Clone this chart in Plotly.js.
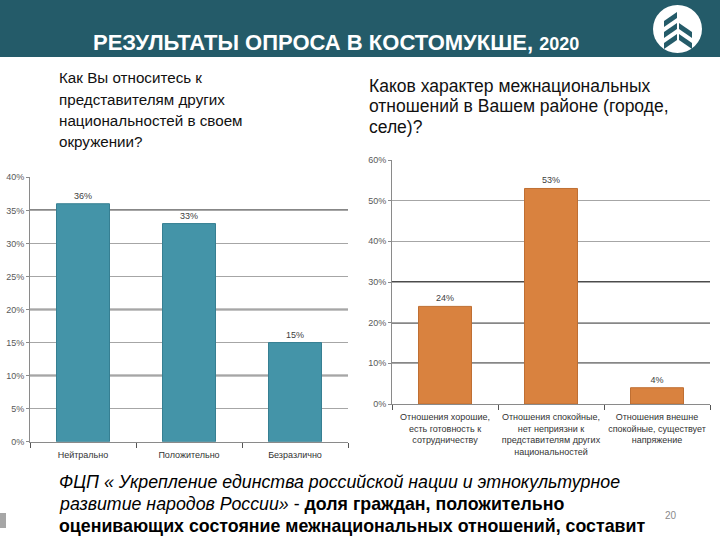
<!DOCTYPE html>
<html><head><meta charset="utf-8">
<script src="https://cdn.plot.ly/plotly-3.0.1.min.js"></script>
<style>html,body{margin:0;padding:0;background:#fff}#chart{width:720px;height:540px}</style>
</head><body><div id="chart"></div>
<script>
// ---- data ----
const leftCategories = ['Нейтрально', 'Положительно', 'Безразлично'];
const leftValues = [36, 33, 15];
const rightCategories = [
  'Отношения хорошие,<br>есть готовность к<br>сотрудничеству',
  'Отношения спокойные,<br>нет неприязни к<br>представителям других<br>национальностей',
  'Отношения внешне<br>спокойные, существует<br>напряжение'
];
const rightValues = [24, 53, 4];
const leftTicks = [0, 5, 10, 15, 20, 25, 30, 35, 40];
const rightTicks = [0, 10, 20, 30, 40, 50, 60];
const leftDarkGrid = [10, 20, 35];
const rightDarkGrid = [10, 20, 30];
const titleText = 'РЕЗУЛЬТАТЫ ОПРОСА В КОСТОМУКШЕ,';
const titleYear = '2020';
const leftQuestion = ['Как Вы относитесь к', 'представителям других', 'национальностей в своем', 'окружении?'];
const rightQuestion = ['Каков характер межнациональных', 'отношений в Вашем районе (городе,', 'селе)?'];
const noteLines = [
  '<i>ФЦП « Укрепление единства российской нации и этнокультурное</i>',
  '<i>развитие народов России»</i> - <b>доля граждан, положительно</b>',
  '<b>оценивающих состояние межнациональных отношений, составит</b>'
];
const pageNumber = '20';

// ---- layout helpers ----
const W = 720, H = 540;
const px = x => x / W;
const py = y => 1 - y / H;
const sans = 'Liberation Sans, Arial, sans-serif';
const pct = v => v + '%';

const traces = [
  {type: 'bar', x: leftCategories, y: leftValues, xaxis: 'x', yaxis: 'y', width: 0.5,
   marker: {color: '#4494a8', line: {color: '#367f92', width: 1}},
   text: leftValues.map(pct), textposition: 'outside', cliponaxis: false,
   textfont: {family: sans, size: 9, color: '#404040'}, hoverinfo: 'skip'},
  {type: 'bar', x: rightCategories, y: rightValues, xaxis: 'x2', yaxis: 'y2', width: 0.5,
   marker: {color: '#d9823f', line: {color: '#bf6f33', width: 1}},
   text: rightValues.map(pct), textposition: 'outside', cliponaxis: false,
   textfont: {family: sans, size: 9, color: '#404040'}, hoverinfo: 'skip'}
];

const axisX = {type: 'category', showline: true, linecolor: '#8a8a8a', linewidth: 1,
  ticks: 'outside', tickson: 'boundaries', ticklen: 5, tickcolor: '#555', tickangle: 0,
  ticklabelstandoff: 4,
  showgrid: false, tickfont: {family: sans, size: 9, color: '#333'}, fixedrange: true};
const axisY = {showline: true, linecolor: '#8a8a8a', linewidth: 1, ticks: 'outside', ticklen: 3,
  tickcolor: '#8a8a8a', gridcolor: '#a6a6a6', gridwidth: 1, zeroline: false, tickmode: 'array',
  tickfont: {family: sans, size: 9, color: '#595959'}, fixedrange: true};

const shapes = [
  {type: 'rect', xref: 'paper', yref: 'paper', x0: 0, x1: 1, y0: py(57), y1: 1,
   fillcolor: '#245b69', line: {width: 0}, layer: 'below'},
  {type: 'circle', xref: 'paper', yref: 'paper', x0: px(653), x1: px(702), y0: py(53), y1: py(5),
   fillcolor: '#ffffff', line: {width: 0}},
  {type: 'rect', xref: 'paper', yref: 'paper', x0: 0, x1: px(6), y0: py(528), y1: py(513),
   fillcolor: '#a6a6a6', line: {width: 0}}
];
// logo stripes
function poly(pts) {
  return 'M' + pts.map(p => px(p[0]) + ',' + py(p[1])).join(' L') + ' Z';
}
[12, 23, 34].forEach((t, i) => {
  shapes.push({type: 'path', xref: 'paper', yref: 'paper',
    path: poly([[664, t + 9], [677, t], [677, t + 6], [664, t + 15]]),
    fillcolor: '#245b69', line: {width: 0}});
  if (i > 0) shapes.push({type: 'path', xref: 'paper', yref: 'paper',
    path: poly([[679, t], [692, t + 9], [692, t + 15], [679, t + 6]]),
    fillcolor: '#245b69', line: {width: 0}});
});
leftDarkGrid.forEach(v => shapes.push({type: 'line', xref: 'x domain', yref: 'y', x0: 0, x1: 1, y0: v, y1: v,
  line: {color: '#111', width: 1.5}, layer: 'below'}));
rightDarkGrid.forEach(v => shapes.push({type: 'line', xref: 'x2 domain', yref: 'y2', x0: 0, x1: 1, y0: v, y1: v,
  line: {color: '#111', width: 1.5}, layer: 'below'}));

const annotations = [];
annotations.push({xref: 'paper', yref: 'paper', x: px(91), y: py(43), xanchor: 'left', yanchor: 'middle',
  showarrow: false, text: '<b>' + titleText + ' <span style="font-size:18px">' + titleYear + '</span></b>',
  font: {family: sans, size: 22, color: '#ffffff'}});
const leftQY = [77, 99, 120.5, 141.5];
leftQuestion.forEach((s, i) => annotations.push({xref: 'paper', yref: 'paper', x: px(57), y: py(leftQY[i]),
  xanchor: 'left', yanchor: 'middle', showarrow: false, text: s, font: {family: sans, size: 15.2, color: '#111'}}));
const rightQY = [86, 106.5, 127];
rightQuestion.forEach((s, i) => annotations.push({xref: 'paper', yref: 'paper', x: px(367), y: py(rightQY[i]),
  xanchor: 'left', yanchor: 'middle', showarrow: false, text: s, font: {family: sans, size: 17.5, color: '#111'}}));
const noteY = [482, 504, 526];
noteLines.forEach((s, i) => annotations.push({xref: 'paper', yref: 'paper', x: px(57), y: py(noteY[i]),
  xanchor: 'left', yanchor: 'middle', showarrow: false, text: s, font: {family: sans, size: 17.8, color: '#000'}}));
annotations.push({xref: 'paper', yref: 'paper', x: px(671), y: py(515), xanchor: 'center', yanchor: 'middle',
  showarrow: false, text: pageNumber, font: {family: sans, size: 10, color: '#8a8a8a'}});

const layout = {
  width: W, height: H, margin: {l: 0, r: 0, t: 0, b: 0},
  paper_bgcolor: '#ffffff', plot_bgcolor: '#ffffff', showlegend: false,
  xaxis: Object.assign({}, axisX, {domain: [px(30), px(348)], anchor: 'y'}),
  yaxis: Object.assign({}, axisY, {domain: [py(441.7), py(177.3)], range: [0, 40],
    tickvals: leftTicks, ticktext: leftTicks.map(pct), anchor: 'x'}),
  xaxis2: Object.assign({}, axisX, {domain: [px(392), px(710)], anchor: 'y2'}),
  yaxis2: Object.assign({}, axisY, {domain: [py(404), py(160)], range: [0, 60],
    tickvals: rightTicks, ticktext: rightTicks.map(pct), anchor: 'x2'}),
  shapes: shapes, annotations: annotations
};
Plotly.newPlot('chart', traces, layout, {displayModeBar: false, staticPlot: true});
</script>
</body></html>
